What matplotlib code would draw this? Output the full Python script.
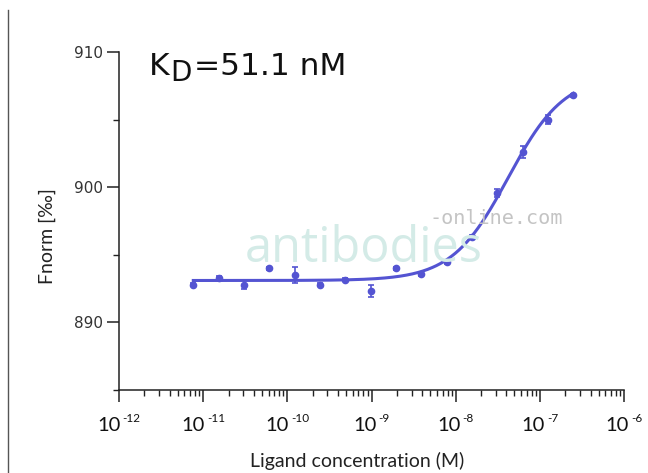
import numpy as np
import matplotlib
matplotlib.use("Agg")
import matplotlib.pyplot as plt
from matplotlib.ticker import FixedLocator, NullFormatter
from matplotlib.lines import Line2D

# ---------------- data ----------------
conc_M = [7.63e-12, 1.53e-11, 3.05e-11, 6.10e-11, 1.22e-10, 2.44e-10, 4.88e-10,
          9.77e-10, 1.95e-9, 3.91e-9, 7.81e-9, 1.56e-8, 3.13e-8, 6.25e-8,
          1.25e-7, 2.50e-7]
fnorm = [892.8, 893.3, 892.8, 894.0, 893.5, 892.8, 893.15, 892.35, 894.0,
         893.55, 894.45, 896.3, 899.6, 902.6, 905.0, 906.8]
fnorm_err = [0.1, 0.1, 0.3, 0.1, 0.6, 0.1, 0.1, 0.45, 0.1, 0.1, 0.1, 0.15,
             0.3, 0.45, 0.35, 0.1]

# fitted dose-response parameters
fit_unbound = 893.1
fit_bound = 908.3
fit_ec50 = 42e-9
fit_hill = 1.3

x_major = [1e-12, 1e-11, 1e-10, 1e-9, 1e-8, 1e-7, 1e-6]
x_exponents = ["-12", "-11", "-10", "-9", "-8", "-7", "-6"]
y_major = [890, 900, 910]
y_minor = [885, 895, 905]

kd_text = "51.1 nM"
color = "#5454d2"

# ---------------- figure ----------------
W, H = 648, 473
fig = plt.figure(figsize=(W / 100, H / 100), dpi=100)
ax = fig.add_axes([119 / W, 1 - 390 / H, (624 - 119) / W, (390 - 52) / H])


def fx(px):
    return px / W


def fy(py):
    return 1 - py / H


# watermark
fig.text(fx(245), fy(262), "antibodies", fontsize=35, family="Open Sans",
         color="#d4ebe7", va="baseline", ha="left", zorder=0)
fig.text(fx(430), fy(224), "-online.com", fontsize=14.5,
         family="DejaVu Sans Mono", color="#c4c4c4", va="baseline", ha="left",
         zorder=0)

# fitted curve
xs = np.logspace(np.log10(min(conc_M)), np.log10(max(conc_M)), 400)
ys = fit_unbound + (fit_bound - fit_unbound) / (1 + (fit_ec50 / xs) ** fit_hill)
ax.plot(xs, ys, color=color, lw=2.2, zorder=3)

ax.errorbar(conc_M, fnorm, yerr=fnorm_err, fmt="o", color=color, ms=4.5,
            capsize=2.5, elinewidth=1.2, capthick=1.2, zorder=4)

ax.set_xscale("log")
ax.set_xlim(1e-12, 1e-6)
ax.set_ylim(885, 910)

ax.xaxis.set_major_locator(FixedLocator(x_major))
ax.xaxis.set_major_formatter(NullFormatter())
minors = [m * d for d in x_major[:-1] for m in range(2, 10)]
ax.xaxis.set_minor_locator(FixedLocator(minors))
ax.xaxis.set_minor_formatter(NullFormatter())

ax.yaxis.set_major_locator(FixedLocator(y_major))
ax.yaxis.set_minor_locator(FixedLocator(y_minor))

for s in ["top", "right"]:
    ax.spines[s].set_visible(False)
for s in ["left", "bottom"]:
    ax.spines[s].set_linewidth(1.1)
    ax.spines[s].set_color("#222222")

ax.tick_params(axis="both", which="major", direction="out", length=8.5,
               width=1.1, color="#222222")
ax.tick_params(axis="both", which="minor", direction="out", length=4.3,
               width=1.0, color="#222222")
ax.tick_params(axis="y", which="major", labelsize=11, pad=3,
               labelcolor="#333333", labelfontfamily="DejaVu Sans")

# axis labels
fig.text(fx(357.5), fy(467), "Ligand concentration (M)", fontsize=14,
         family="Lato", color="#222222", ha="center", va="baseline")
fig.text(fx(47), fy(236.5), "Fnorm [‰]", fontsize=14,
         family=["Lato", "DejaVu Sans"], color="#222222", rotation=90,
         ha="center", va="center")

fig.canvas.draw()
r = fig.canvas.get_renderer()

# x tick labels: "10" with small raised exponent, centred on each tick
for val, ex in zip(x_major, x_exponents):
    xpix = ax.transData.transform((val, 890))[0]
    t1 = fig.text(0, fy(431), "10", fontsize=14.5, family="Lato",
                  color="#111111", ha="left", va="baseline")
    t2 = fig.text(0, fy(422), ex, fontsize=8.5, family="Lato",
                  color="#111111", ha="left", va="baseline")
    w1 = t1.get_window_extent(r).width
    w2 = t2.get_window_extent(r).width
    gap = 2
    left = xpix - (w1 + gap + w2) / 2
    t1.set_x(fx(left))
    t2.set_x(fx(left + w1 + gap))

# K_D label
tK = fig.text(fx(149), fy(75), "K", fontsize=22.5, family="DejaVu Sans",
              va="baseline", ha="left", color="#111111")
bb = tK.get_window_extent(r)
tD = fig.text((bb.x1 + 1) / W, fy(81), "D", fontsize=20,
              family="DejaVu Sans", va="baseline", ha="left", color="#111111")
bb2 = tD.get_window_extent(r)
fig.text((bb2.x1 + 2) / W, fy(75), "=" + kd_text, fontsize=22.5,
         family="DejaVu Sans", va="baseline", ha="left", color="#111111")

# left border line of the original picture
fig.add_artist(Line2D([fx(8), fx(8)], [0, fy(10)], transform=fig.transFigure,
                      color="#555555", lw=1.0))

fig.savefig("out.png", dpi=100)
